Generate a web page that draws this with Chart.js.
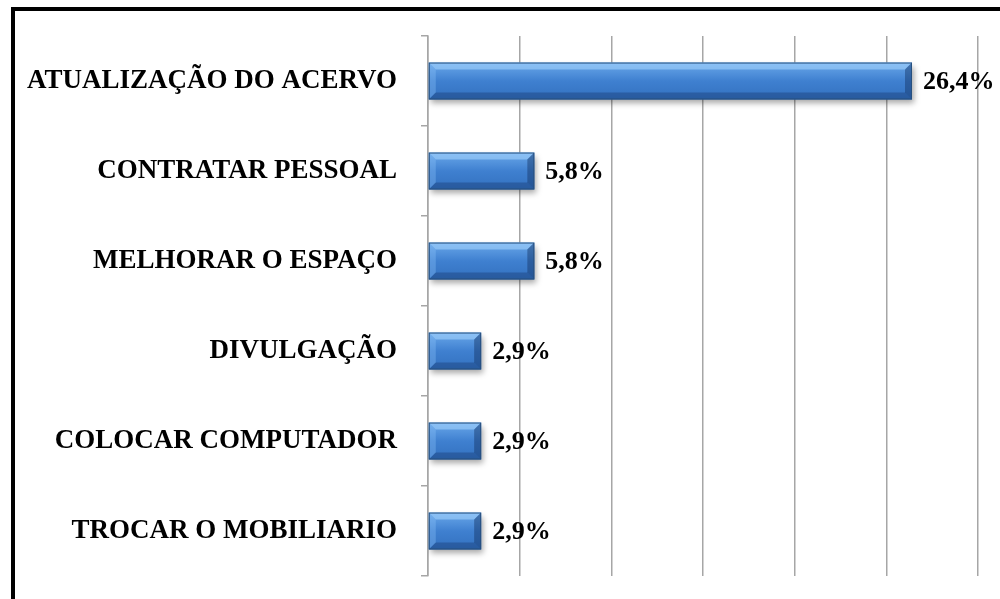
<!DOCTYPE html>
<html>
<head>
<meta charset="utf-8">
<script src="https://cdn.jsdelivr.net/npm/chart.js@4.4.0/dist/chart.umd.min.js"></script>
<style>
  html, body { margin: 0; padding: 0; background: #fff; }
  #wrap { width: 1000px; height: 599px; position: relative; }
</style>
</head>
<body>
<div id="wrap"><canvas id="chart"></canvas></div>
<script>
// chart data
const categories = [
    'ATUALIZAÇÃO DO ACERVO',
    'CONTRATAR PESSOAL',
    'MELHORAR O ESPAÇO',
    'DIVULGAÇÃO',
    'COLOCAR COMPUTADOR',
    'TROCAR O MOBILIARIO'
];
const percentValues = [26.4, 5.8, 5.8, 2.9, 2.9, 2.9];
const axisMax = 30;
const axisStep = 5;

const labelFont = 'bold 26px "Liberation Serif", "Times New Roman", serif';

// bar fill: vertical gradient per bar, follows the bar's own position
function barGradient(context) {
    const chart = context.chart;
    const yScale = chart.scales.y;
    if (!yScale || !chart.chartArea) return '#3f7fcf';
    const meta = chart.getDatasetMeta(context.datasetIndex);
    const bar = meta.data[context.dataIndex];
    const center = yScale.getPixelForValue(context.dataIndex);
    const half = bar && bar.height ? bar.height / 2 : 18.5;
    const g = chart.ctx.createLinearGradient(0, center - half, 0, center + half);
    g.addColorStop(0, '#6aa8ea');
    g.addColorStop(0.5, '#3f80d0');
    g.addColorStop(1, '#3371bf');
    return g;
}

// shadow under bars
const barShadow = {
    id: 'barShadow',
    beforeDatasetsDraw(chart) {
        const ctx = chart.ctx;
        ctx.save();
        ctx.shadowColor = 'rgba(0, 0, 0, 0.35)';
        ctx.shadowBlur = 6;
        ctx.shadowOffsetX = 2;
        ctx.shadowOffsetY = 4;
    },
    afterDatasetsDraw(chart) {
        chart.ctx.restore();
    }
};

// bevel edges on each bar, taken from the bar element geometry
const barBevel = {
    id: 'barBevel',
    afterDatasetsDraw(chart) {
        const ctx = chart.ctx;
        const meta = chart.getDatasetMeta(0);
        const b = 7;
        ctx.save();
        meta.data.forEach(function(bar) {
            const x0 = bar.base, x1 = bar.x;
            const y0 = bar.y - bar.height / 2, y1 = bar.y + bar.height / 2;
            // top light strip
            ctx.fillStyle = 'rgba(170, 215, 255, 0.55)';
            ctx.beginPath();
            ctx.moveTo(x0, y0); ctx.lineTo(x1, y0);
            ctx.lineTo(x1 - b, y0 + b); ctx.lineTo(x0 + b, y0 + b);
            ctx.closePath(); ctx.fill();
            // left light strip
            ctx.fillStyle = 'rgba(140, 195, 250, 0.35)';
            ctx.beginPath();
            ctx.moveTo(x0, y0); ctx.lineTo(x0 + b, y0 + b);
            ctx.lineTo(x0 + b, y1 - b); ctx.lineTo(x0, y1);
            ctx.closePath(); ctx.fill();
            // bottom dark strip
            ctx.fillStyle = 'rgba(20, 50, 100, 0.35)';
            ctx.beginPath();
            ctx.moveTo(x0, y1); ctx.lineTo(x1, y1);
            ctx.lineTo(x1 - b, y1 - b); ctx.lineTo(x0 + b, y1 - b);
            ctx.closePath(); ctx.fill();
            // right dark strip
            ctx.fillStyle = 'rgba(20, 50, 100, 0.45)';
            ctx.beginPath();
            ctx.moveTo(x1, y0); ctx.lineTo(x1 - b, y0 + b);
            ctx.lineTo(x1 - b, y1 - b); ctx.lineTo(x1, y1);
            ctx.closePath(); ctx.fill();
            // outline
            ctx.strokeStyle = '#27507f';
            ctx.lineWidth = 1;
            ctx.strokeRect(x0 + 0.5, y0 + 0.5, x1 - x0 - 1, y1 - y0 - 1);
        });
        ctx.restore();
    }
};

// value labels at the end of each bar
const valueLabels = {
    id: 'valueLabels',
    afterDatasetsDraw(chart) {
        const ctx = chart.ctx;
        const meta = chart.getDatasetMeta(0);
        ctx.save();
        ctx.font = labelFont;
        ctx.fillStyle = '#000';
        ctx.textAlign = 'left';
        ctx.textBaseline = 'middle';
        meta.data.forEach(function(bar, i) {
            const txt = percentValues[i].toFixed(1).replace('.', ',') + '%';
            ctx.fillText(txt, bar.x + 11, bar.y + 1);
        });
        ctx.restore();
    }
};

// black frame along top and left edge
const frame = {
    id: 'frame',
    afterDraw(chart) {
        const ctx = chart.ctx;
        ctx.save();
        ctx.fillStyle = '#000';
        ctx.fillRect(11, 7, 4, 592);
        ctx.fillRect(11, 7, 989, 4);
        ctx.restore();
    }
};

new Chart(document.getElementById('chart'), {
    type: 'bar',
    data: {
        labels: categories,
        datasets: [{
            data: percentValues,
            backgroundColor: barGradient,
            borderWidth: 0,
            categoryPercentage: 1,
            barPercentage: 0.41
        }]
    },
    plugins: [barShadow, barBevel, valueLabels, frame],
    options: {
        indexAxis: 'y',
        responsive: true,
        maintainAspectRatio: false,
        animation: false,
        layout: {
            padding: { top: 36, right: 22, bottom: 23, left: 0 }
        },
        plugins: {
            legend: { display: false },
            tooltip: { enabled: false }
        },
        scales: {
            x: {
                min: 0,
                max: axisMax,
                ticks: { display: false, stepSize: axisStep },
                grid: {
                    color: '#a6a6a6',
                    lineWidth: 1.5,
                    drawTicks: false
                },
                border: { display: false },
                afterFit: function(scale) {
                    scale.height = 0;
                    scale.paddingLeft = 0;
                    scale.paddingRight = 0;
                }
            },
            y: {
                grid: {
                    offset: true,
                    drawOnChartArea: false,
                    drawTicks: true,
                    tickLength: 7,
                    color: '#a6a6a6',
                    lineWidth: 1.5
                },
                border: { display: true, color: '#a6a6a6', width: 1.5 },
                ticks: {
                    color: '#000',
                    padding: 24,
                    font: { family: '"Liberation Serif", "Times New Roman", serif', size: 27, weight: 'bold' }
                },
                afterFit: function(scale) {
                    scale.width = 428;
                    scale.paddingTop = 0;
                    scale.paddingBottom = 0;
                }
            }
        }
    }
});
</script>
</body>
</html>
